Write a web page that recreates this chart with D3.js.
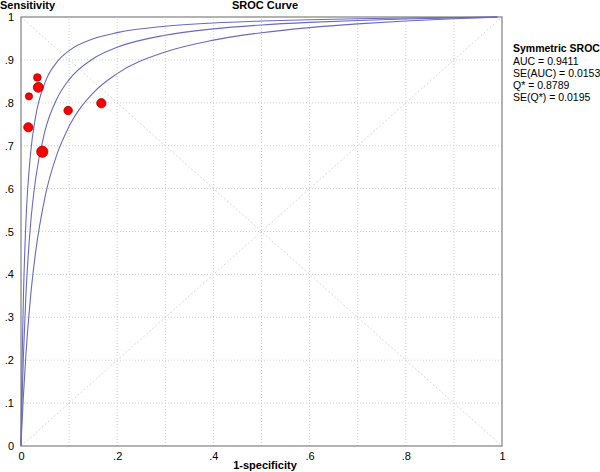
<!DOCTYPE html>
<html lang="en">
<head>
  <meta charset="utf-8">
  <title>SROC Curve</title>
  <script src="https://d3js.org/d3.v7.min.js"></script>
  <style>
    body { margin: 0; background: #fff; }
    text { font-family: "Liberation Sans", Arial, sans-serif; fill: #000; }
    .bold { font-weight: bold; font-size: 11px; }
    .tick text { font-size: 11px; }
    .legend { font-size: 10.5px; }
    .ltitle { font-weight: bold; font-size: 10.5px; }
  </style>
</head>
<body>
  <div id="chart"></div>
  <script>
    // study points (1-specificity, sensitivity, weight)
    var fpr = [0.034, 0.036, 0.0166, 0.0152, 0.0443, 0.098, 0.167];
    var tpr = [0.859, 0.836, 0.815, 0.743, 0.686, 0.782, 0.799];
    var weight = [13, 22, 11.5, 19, 28, 16, 19];

    // curves
    var curveX = [0, 0.001, 0.0025, 0.005, 0.01, 0.02, 0.03, 0.05, 0.075, 0.1, 0.15, 0.2, 0.3, 0.4, 0.5, 0.6, 0.7, 0.8, 0.9, 0.99];
    var curveUpper = [0, 0.0956, 0.2093, 0.3467, 0.5161, 0.6831, 0.7656, 0.8475, 0.8954, 0.9215, 0.9491, 0.9635, 0.9784, 0.986, 0.9906, 0.9937, 0.996, 0.9976, 0.9989, 0.9999];
    var curveMid = [0, 0.0501, 0.1166, 0.2093, 0.3472, 0.518, 0.6196, 0.7349, 0.8102, 0.854, 0.9028, 0.9294, 0.9576, 0.9723, 0.9814, 0.9875, 0.9919, 0.9953, 0.9979, 0.9998];
    var curveLower = [0, 0.0257, 0.0619, 0.1168, 0.21, 0.3494, 0.4486, 0.5807, 0.6808, 0.7451, 0.8228, 0.868, 0.9185, 0.9461, 0.9634, 0.9753, 0.984, 0.9906, 0.9958, 0.9996];

    var yTicks = [0, 0.1, 0.2, 0.3, 0.4, 0.5, 0.6, 0.7, 0.8, 0.9, 1];
    var yTickLabels = ["0", ".1", ".2", ".3", ".4", ".5", ".6", ".7", ".8", ".9", "1"];
    var xTicks = [0, 0.2, 0.4, 0.6, 0.8, 1];
    var xTickLabels = ["0", ".2", ".4", ".6", ".8", "1"];
    var gridTicks = [0.1, 0.2, 0.3, 0.4, 0.5, 0.6, 0.7, 0.8, 0.9];

    var legendTitle = "Symmetric SROC";
    var legendLines = ["AUC = 0.9411", "SE(AUC) = 0.0153", "Q* = 0.8789", "SE(Q*) = 0.0195"];

    var w = 600, h = 472;
    var x = d3.scaleLinear().domain([0, 1]).range([21, 502]);
    var y = d3.scaleLinear().domain([0, 1]).range([446, 17]);

    var svg = d3.select('#chart').append('svg')
      .attr('width', w)
      .attr('height', h);

    // grid
    svg.selectAll('line.vgrid').data(gridTicks).enter().append('line')
      .attr('x1', d => x(d)).attr('x2', d => x(d))
      .attr('y1', y(0)).attr('y2', y(1))
      .attr('stroke', '#cfcfcf').attr('stroke-dasharray', '1,2');
    svg.selectAll('line.hgrid').data(gridTicks).enter().append('line')
      .attr('y1', d => y(d)).attr('y2', d => y(d))
      .attr('x1', x(0)).attr('x2', x(1))
      .attr('stroke', '#cfcfcf').attr('stroke-dasharray', '1,2');

    // diagonals
    svg.append('line').attr('x1', x(0)).attr('y1', y(0)).attr('x2', x(1)).attr('y2', y(1))
      .attr('stroke', '#d8d8d8').attr('stroke-dasharray', '2,2');
    svg.append('line').attr('x1', x(0)).attr('y1', y(1)).attr('x2', x(1)).attr('y2', y(0))
      .attr('stroke', '#d8d8d8').attr('stroke-dasharray', '2,2');

    // frame
    svg.append('rect')
      .attr('x', x(0)).attr('y', y(1))
      .attr('width', x(1) - x(0)).attr('height', y(0) - y(1))
      .attr('fill', 'none').attr('stroke', '#808080').attr('stroke-width', 1.2);

    // axes
    var yAxis = d3.axisLeft(y).tickValues(yTicks)
      .tickFormat((d, i) => yTickLabels[i]).tickSize(0).tickPadding(7);
    svg.append('g').attr('transform', 'translate(' + x(0) + ',0)').call(yAxis)
      .call(g => g.select('.domain').remove());

    var xAxis = d3.axisBottom(x).tickValues(xTicks)
      .tickFormat((d, i) => xTickLabels[i]).tickSize(0).tickPadding(6);
    svg.append('g').attr('transform', 'translate(0,' + y(0) + ')').call(xAxis)
      .call(g => g.select('.domain').remove());

    // curves
    var line = d3.line()
      .x(d => x(d[0])).y(d => y(d[1]))
      .curve(d3.curveMonotoneX);
    [curveUpper, curveMid, curveLower].forEach(function (c) {
      svg.append('path')
        .datum(curveX.map((v, i) => [v, c[i]]))
        .attr('d', line)
        .attr('fill', 'none')
        .attr('stroke', '#6a6ac0')
        .attr('stroke-width', 1.1);
    });

    // points
    var r = d3.scaleSqrt().domain([0, d3.max(weight)]).range([0, 5.6]);
    svg.selectAll('circle.pt').data(fpr).enter().append('circle')
      .attr('cx', d => x(d))
      .attr('cy', (d, i) => y(tpr[i]))
      .attr('r', (d, i) => r(weight[i]))
      .attr('fill', '#ff0000')
      .attr('stroke', '#a00000')
      .attr('stroke-width', 0.8);

    // titles
    svg.append('text').attr('class', 'bold').attr('x', 0).attr('y', 9).text('Sensitivity');
    svg.append('text').attr('class', 'bold').attr('x', 265).attr('y', 9)
      .attr('text-anchor', 'middle').text('SROC Curve');
    svg.append('text').attr('class', 'bold').attr('x', 265).attr('y', 469)
      .attr('text-anchor', 'middle').text('1-specificity');

    // legend
    svg.append('text').attr('class', 'ltitle').attr('x', 513).attr('y', 52).text(legendTitle);
    svg.selectAll('text.legend').data(legendLines).enter().append('text')
      .attr('class', 'legend')
      .attr('x', 513)
      .attr('y', (d, i) => 64.5 + i * 12.2)
      .text(d => d);
  </script>
</body>
</html>
